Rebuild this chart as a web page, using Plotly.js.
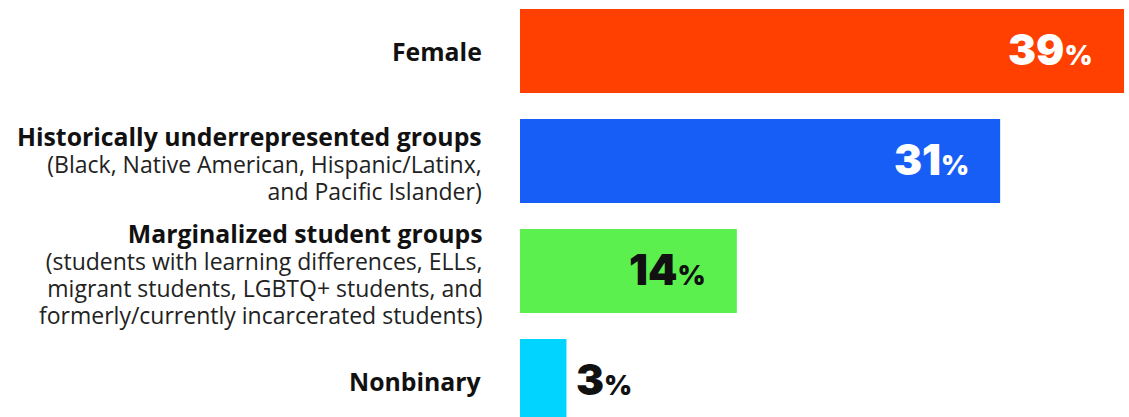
<!DOCTYPE html>
<html>
<head>
<meta charset="utf-8">
<script src="https://cdn.plot.ly/plotly-3.0.1.min.js"></script>
<style>html,body{margin:0;padding:0;background:#fff;}#chart{width:1129px;height:417px;}</style>
</head>
<body>
<div id="chart"></div>
<script>
const categories = ["Female", "Historically underrepresented groups", "Marginalized student groups", "Nonbinary"];
const subLabels = [
  [],
  ["(Black, Native American, Hispanic/Latinx,", "and Pacific Islander)"],
  ["(students with learning differences, ELLs,", "migrant students, LGBTQ+ students, and", "formerly/currently incarcerated students)"],
  []
];
const values = [39, 31, 14, 3];
const barColors = ["#FF4000", "#175EF6", "#5CF04E", "#00D4FF"];
const labelColors = ["#ffffff", "#ffffff", "#111111", "#111111"];

const FONT = "'Open Sans', sans-serif";
const NUMFONT = "Inter, 'Open Sans', sans-serif";
const BOLD_SIZE = 24.8, SUB_SIZE = 23;
const LINE_STEP = 27;

const annotations = [];
categories.forEach((c, i) => {
  const subs = subLabels[i];
  const parts = ["<span style='font-size:" + BOLD_SIZE + "px;color:#111111'><b>" + c + "</b></span>"]
    .concat(subs.map(s => "<span style='font-size:" + SUB_SIZE + "px;color:#222222'>" + s + "</span>"));
  annotations.push({
    x: 0, xref: "x", y: c, yref: "y",
    xanchor: "right", yanchor: "middle", xshift: -36,
    yshift: subs.length ? -2 : 0,
    text: parts.join("<br>"), showarrow: false, align: "right",
    font: {family: FONT, size: LINE_STEP / 1.3, color: "#111111"}
  });
  const inside = values[i] >= 10;
  annotations.push({
    x: values[i], xref: "x", y: c, yref: "y",
    xanchor: inside ? "right" : "left", yanchor: "middle",
    xshift: inside ? -29 : 8, yshift: 2,
    text: values[i] + "<span style='font-size:27px'>%</span>",
    showarrow: false,
    font: {family: NUMFONT, size: 42, color: labelColors[i], weight: 900}
  });
});

const trace = {
  type: "bar", orientation: "h",
  y: categories, x: values,
  marker: {color: barColors, line: {width: 0}},
  hoverinfo: "none"
};

const layout = {
  width: 1129, height: 417,
  margin: {l: 520, r: 0, t: 0, b: 0, pad: 0},
  paper_bgcolor: "#ffffff", plot_bgcolor: "#ffffff",
  showlegend: false,
  bargap: 0.236,
  xaxis: {range: [0, 39.32], visible: false, fixedrange: true},
  yaxis: {type: "category", range: [3.327, -0.4636], visible: false, fixedrange: true},
  annotations: annotations
};

Plotly.newPlot("chart", [trace], layout, {staticPlot: true, displayModeBar: false});
</script>
</body>
</html>
